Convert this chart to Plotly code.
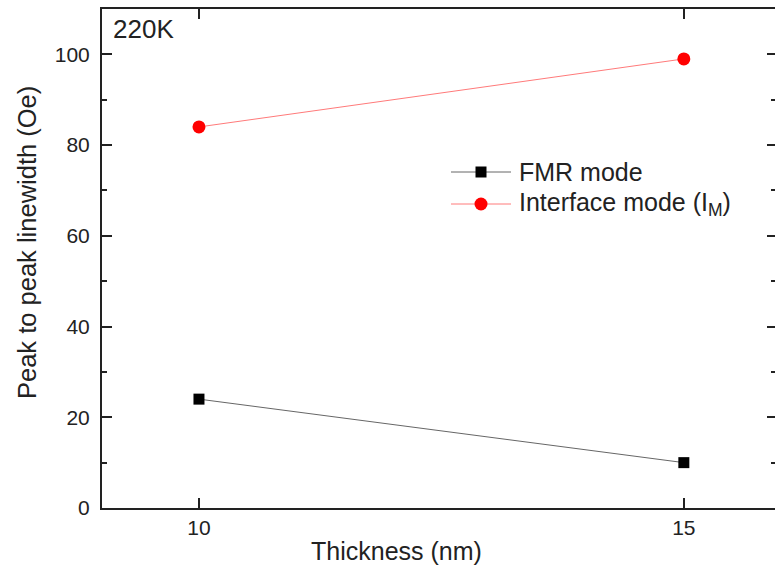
import plotly.graph_objects as go

# Thickness (nm) and peak-to-peak linewidth (Oe) at 220 K
thickness = [10, 15]
fmr_linewidth = [24, 10]
interface_linewidth = [84, 99]
series_names = ["FMR mode", "Interface mode (I<sub>M</sub>)"]

font_family = "Arial, Liberation Sans, sans-serif"
ink = "#222"
fmr_line, fmr_marker = "#666666", "black"
im_line, im_marker = "#ff7a7a", "#ff0000"

W, H = 775, 574
L, R, T, B = 102, 0, 9, 66
plot_w, plot_h = W - L - R, H - T - B


def px(x):
    return (x - L) / plot_w


def py(y):
    return (H - B - y) / plot_h


fig = go.Figure()

fig.add_trace(go.Scatter(
    x=thickness, y=fmr_linewidth, name=series_names[0],
    mode="lines+markers", showlegend=False,
    line=dict(color=fmr_line, width=1),
    marker=dict(symbol="square", size=11, color=fmr_marker),
))
fig.add_trace(go.Scatter(
    x=thickness, y=interface_linewidth, name=series_names[1],
    mode="lines+markers", showlegend=False,
    line=dict(color=im_line, width=1),
    marker=dict(symbol="circle", size=13, color=im_marker),
))

# Right-hand ticks without an axis line
fig.add_trace(go.Scatter(x=thickness, y=fmr_linewidth, yaxis="y2",
                         mode="none", showlegend=False, hoverinfo="skip"))

axis_common = dict(
    showgrid=False, zeroline=False, ticks="inside",
    tickcolor=ink, tickwidth=1.5,
    tickfont=dict(family=font_family, size=21, color=ink),
)

# Legend drawn as shapes + text so the sample lines can be long
shapes = []
annotations = []
legend_rows = [
    (172, fmr_line, "square", 11, fmr_marker, series_names[0]),
    (204, im_line, "circle", 13, im_marker, series_names[1]),
]
for y, lc, sym, size, mc, label in legend_rows:
    shapes.append(dict(type="line", xref="paper", yref="paper",
                       x0=px(451), x1=px(511), y0=py(y), y1=py(y),
                       line=dict(color=lc, width=1)))
    h = size / 2
    shapes.append(dict(type="rect" if sym == "square" else "circle",
                       xref="paper", yref="paper",
                       x0=px(481 - h), x1=px(481 + h), y0=py(y + h), y1=py(y - h),
                       fillcolor=mc, line=dict(width=0)))
    annotations.append(dict(text=label, xref="paper", yref="paper",
                            x=px(517), y=py(y), xanchor="left", yanchor="middle",
                            showarrow=False,
                            font=dict(family=font_family, size=25, color=ink)))

annotations += [
    dict(text="220K", xref="paper", yref="paper", x=px(111), y=py(29),
         xanchor="left", yanchor="middle", showarrow=False,
         font=dict(family=font_family, size=26, color=ink)),
    dict(text="Thickness (nm)", xref="paper", yref="paper", x=px(396), y=py(551),
         xanchor="center", yanchor="middle", showarrow=False,
         font=dict(family=font_family, size=25, color=ink)),
    dict(text="Peak to peak linewidth (Oe)", xref="paper", yref="paper",
         x=px(27), y=py(243), xanchor="center", yanchor="middle",
         textangle=-90, showarrow=False,
         font=dict(family=font_family, size=25.5, color=ink)),
]

fig.update_layout(
    width=W, height=H,
    margin=dict(l=L, r=R, t=T, b=B),
    paper_bgcolor="white", plot_bgcolor="white",
    font=dict(family=font_family, color=ink),
    showlegend=False,
    xaxis=dict(
        range=[9, 15.94], tickvals=[10, 15], ticklen=10,
        showline=True, linecolor=ink, linewidth=2, mirror="ticks",
        **axis_common,
    ),
    yaxis=dict(
        range=[0, 110], dtick=20, ticklen=10, ticklabelstandoff=6,
        showline=True, linecolor=ink, linewidth=2,
        minor=dict(dtick=10, ticks="inside", ticklen=5, tickcolor=ink, tickwidth=1.5),
        **axis_common,
    ),
    yaxis2=dict(
        overlaying="y", side="right", anchor="x",
        range=[0, 110], dtick=20, ticklen=8, showticklabels=False,
        showline=False,
        minor=dict(dtick=10, ticks="inside", ticklen=4, tickcolor=ink, tickwidth=1.5),
        **axis_common,
    ),
    shapes=shapes,
    annotations=annotations,
)

fig.write_html("out.html")
